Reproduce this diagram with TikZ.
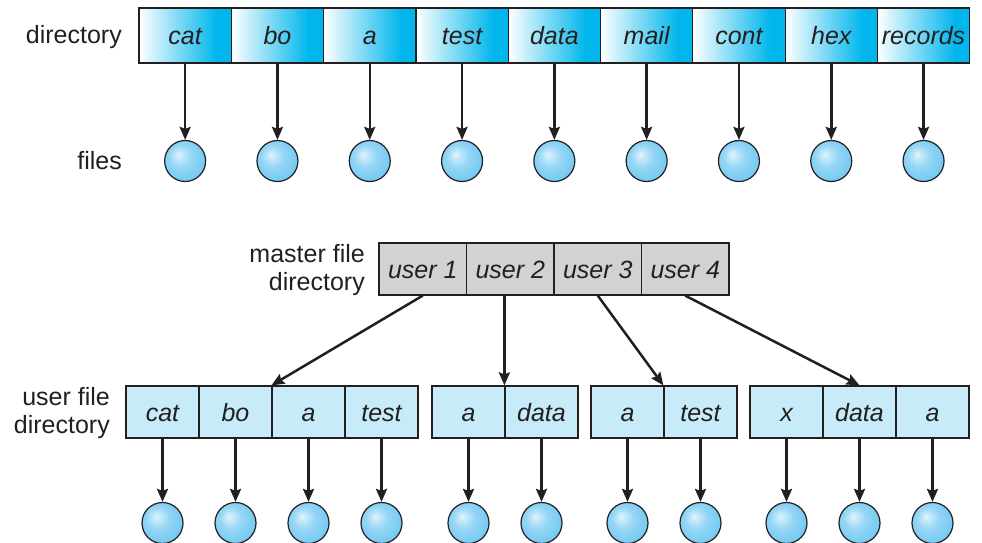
\documentclass[tikz,border=0pt]{standalone}
\usepackage{fontspec}
\setmainfont{Liberation Sans}
\usetikzlibrary{arrows.meta,positioning}
\definecolor{dircyan}{RGB}{0,182,236}
\definecolor{ballblue}{RGB}{112,200,242}
\definecolor{ufdblue}{RGB}{200,235,249}
\definecolor{mfdgray}{RGB}{210,210,210}
\definecolor{inkline}{RGB}{35,31,32}
\pgfdeclarehorizontalshading{dirshade}{100bp}{color(0bp)=(white); color(25bp)=(white); color(67bp)=(dircyan); color(100bp)=(dircyan)}
\pgfdeclareradialshading{ballshade}{\pgfpoint{-8bp}{8bp}}{color(0bp)=(ballblue!15); color(3bp)=(ballblue!35); color(14bp)=(ballblue!75); color(30bp)=(ballblue); color(50bp)=(ballblue)}

\begin{document}
\begin{tikzpicture}[x=1pt,y=-1pt]
  \tikzstyle{every node}=[text=inkline,font=\fontsize{25}{28}\selectfont]
  \tikzstyle{lbl}=[inner sep=0pt]
  \tikzstyle{cell}=[draw=inkline,line width=1.2pt,inner sep=0pt,text height=19pt,text depth=0pt,font=\fontsize{25}{28}\selectfont\itshape]
  \tikzstyle{dircell}=[cell,shade,shading=dirshade,minimum width=92.3pt,minimum height=55pt]
  \tikzstyle{mcell}=[cell,fill=mfdgray,minimum width=87.5pt,minimum height=52pt]
  \tikzstyle{ucell}=[cell,fill=ufdblue,minimum width=73pt,minimum height=52pt]
  \tikzstyle{fileball}=[circle,draw=inkline,line width=1.2pt,shade,shading=ballshade,minimum size=41pt,inner sep=0pt]
  \tikzstyle{ptr}=[draw=inkline,line width=2.5pt,-{Stealth[length=13pt,width=11pt,inset=2pt]}]
  \useasboundingbox (0,0) rectangle (982,543);

  \node[lbl,anchor=east] (dirlbl) at (122,37) {directory};
  \node[lbl,anchor=east] (fileslbl) at (122,161) {files};
  \foreach \name [count=\i] in {cat,bo,a,test,data,mail,cont,hex,records}{
    \pgfmathsetmacro\cx{139+92.3*(\i-0.5)}
    \node[dircell] (d\i) at (\cx,35.5) {\name};
    \node[fileball] (f\i) at (\cx,161) {};
    \draw[ptr] (d\i) -- (f\i);
  }

  \node[lbl,anchor=east,align=right] (mfdlbl) at (365,270) {master file\\directory};
  \foreach \i in {1,...,4}
    \node[mcell] (m\i) at ({379+87.5*(\i-0.5)},269) {user \i};

  \node[lbl,anchor=east,align=right] (ufdlbl) at (110,413) {user file\\directory};
  \foreach \xl/\names [count=\g] in {126/{cat,bo,a,test},432/{a,data},591/{a,test},750/{x,data,a}}{
    \foreach \name [count=\i] in \names {
      \pgfmathsetmacro\cx{\xl+73*(\i-0.5)}
      \node[ucell] (u\g-\i) at (\cx,412) {\name};
      \node[fileball] (uf\g-\i) at (\cx,523) {};
      \draw[ptr] (u\g-\i) -- (uf\g-\i);
    }
  }

  \draw[ptr] (m1.south) -- (u1-3.north west);
  \draw[ptr] (m2.south -| u2-2.north west) -- (u2-2.north west);
  \draw[ptr] (m3.south) -- (u3-2.north west);
  \draw[ptr] (m4.south) -- (u4-2.north);
\end{tikzpicture}
\end{document}
